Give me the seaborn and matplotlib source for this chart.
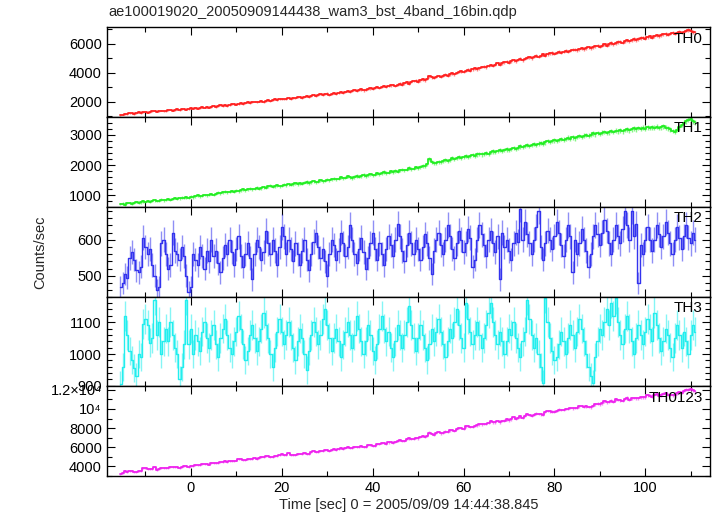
"""
Suzaku WAM burst light curve (4 energy bands, 16-bin = 0.5 s) redrawn
from the QDP plot: TH0..TH3 and the summed TH0123 channel, stacked panels.

Writes out.png in the working folder.
"""
import matplotlib
matplotlib.use("Agg")
import matplotlib.pyplot as plt
from matplotlib.ticker import FuncFormatter, MultipleLocator
import numpy as np
import seaborn as sns


TITLE = "ae100019020_20050909144438_wam3_bst_4band_16bin.qdp"
XLABEL = "Time [sec] 0 = 2005/09/09 14:44:38.845"
YLABEL = "Counts/sec"

T_START = -15.5   # first bin centre [s]
T_BIN = 0.5       # 16 x 1/32 s

TH0 = [
    1080, 1130, 1170, 1140, 1200, 1230, 1170, 1210, 1270, 1240,
    1290, 1320, 1260, 1300, 1350, 1390, 1320, 1340, 1400, 1350,
    1370, 1420, 1460, 1390, 1410, 1480, 1430, 1490, 1530, 1470,
    1500, 1570, 1530, 1590, 1530, 1580, 1650, 1600, 1660, 1600,
    1640, 1710, 1660, 1720, 1780, 1710, 1770, 1730, 1800, 1840,
    1860, 1810, 1870, 1930, 1860, 1920, 1970, 1910, 1980, 2020,
    1960, 2020, 2080, 2010, 2070, 2120, 2060, 2130, 2170, 2100,
    2170, 2220, 2160, 2220, 2290, 2210, 2270, 2230, 2300, 2340,
    2280, 2340, 2400, 2330, 2400, 2450, 2390, 2460, 2510, 2440,
    2510, 2570, 2500, 2560, 2630, 2560, 2620, 2670, 2600, 2680,
    2720, 2670, 2730, 2790, 2720, 2790, 2850, 2780, 2840, 2900,
    2920, 2870, 2940, 3010, 2930, 3000, 3070, 3000, 3070, 3130,
    3160, 3100, 3180, 3250, 3170, 3260, 3330, 3250, 3340, 3410,
    3450, 3390, 3470, 3540, 3470, 3570, 3740, 3680, 3620, 3710,
    3760, 3700, 3790, 3870, 3780, 3880, 3960, 3880, 3980, 4060,
    4100, 4040, 4130, 4210, 4120, 4220, 4300, 4220, 4310, 4390,
    4420, 4360, 4450, 4530, 4450, 4550, 4630, 4540, 4640, 4710,
    4740, 4680, 4770, 4860, 4770, 4870, 4950, 4860, 4960, 5030,
    5050, 4990, 5080, 5160, 5080, 5170, 5250, 5170, 5260, 5330,
    5350, 5290, 5370, 5440, 5360, 5440, 5510, 5430, 5510, 5570,
    5590, 5530, 5610, 5680, 5600, 5690, 5750, 5670, 5750, 5820,
    5840, 5780, 5860, 5940, 5860, 5950, 6030, 5950, 6040, 6100,
    6120, 6060, 6140, 6220, 6140, 6230, 6310, 6230, 6310, 6370,
    6400, 6340, 6420, 6490, 6410, 6500, 6570, 6490, 6580, 6640,
    6660, 6600, 6680, 6750, 6670, 6750, 6820, 6740, 6820, 6880,
    6920, 6850, 6800, 6770,
]

TH1 = [
    700, 720, 690, 730, 750, 720, 740, 770, 750, 760,
    790, 770, 800, 780, 810, 830, 800, 820, 850, 830,
    840, 870, 850, 880, 900, 870, 890, 920, 900, 930,
    920, 950, 930, 960, 990, 960, 980, 1010, 990, 1020,
    1040, 1010, 1050, 1080, 1060, 1090, 1120, 1090, 1110, 1140,
    1120, 1150, 1130, 1170, 1200, 1160, 1190, 1220, 1190, 1210,
    1240, 1210, 1230, 1270, 1250, 1290, 1310, 1280, 1300, 1330,
    1300, 1320, 1350, 1330, 1360, 1340, 1370, 1400, 1370, 1390,
    1380, 1410, 1440, 1400, 1430, 1460, 1430, 1450, 1490, 1460,
    1480, 1510, 1490, 1520, 1550, 1520, 1550, 1590, 1560, 1580,
    1620, 1590, 1570, 1600, 1630, 1610, 1640, 1670, 1640, 1660,
    1690, 1660, 1680, 1720, 1700, 1730, 1760, 1730, 1750, 1790,
    1770, 1800, 1780, 1820, 1850, 1820, 1850, 1890, 1860, 1880,
    1920, 1900, 1940, 1980, 1960, 2020, 2200, 2100, 2060, 2080,
    2110, 2090, 2130, 2170, 2140, 2180, 2220, 2190, 2230, 2260,
    2240, 2270, 2300, 2270, 2310, 2340, 2310, 2350, 2380, 2350,
    2370, 2400, 2380, 2420, 2450, 2420, 2460, 2490, 2460, 2500,
    2520, 2490, 2530, 2570, 2540, 2580, 2620, 2590, 2630, 2660,
    2630, 2670, 2700, 2670, 2710, 2740, 2710, 2750, 2790, 2760,
    2790, 2820, 2790, 2830, 2870, 2840, 2870, 2910, 2880, 2920,
    2890, 2930, 2960, 2930, 2970, 3000, 2970, 3010, 3050, 3020,
    3060, 3030, 3070, 3100, 3060, 3090, 3130, 3100, 3140, 3120,
    3150, 3120, 3160, 3190, 3150, 3180, 3220, 3190, 3230, 3210,
    3240, 3210, 3250, 3230, 3260, 3240, 3270, 3230, 3260, 3280,
    3240, 3220, 3180, 3130, 3110, 3160, 3250, 3330, 3400, 3450,
    3500, 3540, 3460, 3420,
]

TH2 = [
    470, 480, 505, 495, 550, 565, 545, 515, 510, 525,
    605, 580, 560, 575, 530, 500, 460, 470, 590, 600,
    560, 520, 530, 620, 570, 560, 545, 580, 555, 500,
    455, 470, 560, 545, 530, 580, 555, 520, 570, 540,
    600, 555, 570, 535, 510, 550, 585, 560, 600, 565,
    530, 575, 610, 555, 525, 560, 590, 550, 490, 560,
    600, 580, 545, 565, 625, 590, 560, 600, 570, 530,
    580, 635, 610, 560, 600, 575, 540, 590, 560, 530,
    570, 600, 545, 515, 560, 595, 620, 580, 550, 575,
    540, 500, 560, 600, 585, 545, 570, 620, 590, 555,
    580, 640, 600, 560, 535, 575, 605, 565, 520, 550,
    590, 620, 575, 545, 590, 560, 530, 575, 610, 585,
    555, 600, 645, 610, 570, 540, 585, 620, 590, 560,
    600, 575, 545, 580, 615, 590, 550, 505, 570, 600,
    620, 585, 560, 600, 640, 610, 575, 550, 590, 625,
    600, 565, 590, 630, 605, 525, 545, 600, 640, 615,
    585, 555, 600, 625, 590, 565, 610, 490, 620, 580,
    600, 570, 545, 590, 620, 595, 685, 600, 650, 615,
    590, 560, 600, 635, 680, 580, 545, 590, 625, 600,
    575, 610, 650, 620, 585, 555, 600, 640, 610, 510,
    600, 560, 590, 630, 600, 570, 525, 560, 610, 640,
    615, 585, 620, 655, 625, 590, 560, 600, 640, 610,
    590, 630, 680, 640, 600, 680, 610, 645, 480, 585,
    560, 600, 635, 600, 570, 600, 640, 615, 580, 610,
    650, 620, 590, 560, 600, 635, 605, 575, 610, 640,
    605, 590, 620, 600,
]

TH3 = [
    905, 960, 1120, 1060, 1010, 980, 955, 930, 1000, 990,
    1095, 1110, 1090, 1035, 1050, 1170, 1060, 1100, 1000, 1040,
    1080, 1040, 1100, 1060, 1020, 1000, 920, 960, 1030, 1170,
    1030, 1080, 1000, 1060, 1040, 1010, 1070, 1100, 1050, 1020,
    1060, 1090, 1030, 990, 1050, 1080, 1110, 1060, 1020, 1000,
    1040, 1070, 1120, 1080, 1030, 980, 1010, 1060, 1090, 1050,
    1010, 1040, 1080, 1130, 1090, 1050, 1000, 960, 1020, 1070,
    1110, 1070, 1030, 1060, 1100, 1060, 1020, 980, 1040, 1080,
    1050, 1000, 950, 1010, 1060, 1100, 1070, 1030, 1060, 1110,
    1140, 1090, 1050, 1010, 1050, 1080, 1040, 990, 1030, 1070,
    1100, 1060, 1020, 1060, 1120, 1080, 1040, 1000, 1040, 1090,
    1060, 1010, 980, 1030, 1080, 1120, 1080, 1040, 1070, 1020,
    990, 1040, 1090, 1060, 1020, 1060, 1100, 1150, 1090, 1050,
    1010, 1050, 1090, 1060, 1020, 980, 1030, 1080, 1040, 1070,
    1110, 1070, 1030, 990, 1040, 1080, 1050, 1100, 1140, 1090,
    1050, 1020, 1160, 1110, 1070, 1030, 1060, 1100, 1060, 1020,
    1050, 1090, 1130, 1160, 1100, 1060, 1030, 1070, 1040, 1000,
    1040, 1080, 1060, 1100, 1050, 1020, 990, 1040, 1070, 1170,
    1110, 1060, 1020, 1050, 1000, 960, 908, 1177, 1100, 1050,
    1010, 980, 990, 1030, 1070, 1040, 1000, 1050, 1090, 1060,
    1020, 1070, 1110, 1080, 1040, 1000, 960, 930, 908, 990,
    1040, 1080, 1060, 1100, 1140, 1090, 1160, 1120, 1175, 1100,
    1060, 1030, 1080, 1120, 1080, 1040, 1000, 1050, 1090, 1060,
    1030, 1070, 1110, 1080, 1040, 1130, 1090, 1050, 1010, 1040,
    1080, 1060, 1020, 990, 1050, 1090, 1060, 1020, 1070, 1040,
    1000, 1060, 1090, 1070,
]

# name, colour, y-limits, major / minor tick step, line width
PANELS = [
    ("TH0", "#ff2020", (950, 7110), 2000, 1000, 1.3),
    ("TH1", "#22ee22", (610, 3590), 1000, 200, 1.3),
    ("TH2", "#3333ee", (442, 691), 100, 20, 1.0),
    ("TH3", "#22eeee", (898, 1180), 100, 20, 1.0),
    ("TH0123", "#ee22ee", (2960, 12350), 2000, 1000, 1.3),
]


def sum_label(v, _pos):
    if v == 10000:
        return "10\u2074"
    if v == 12000:
        return "1.2\u00d710\u2074"
    return f"{v:.0f}"


def main() -> None:
    sns.set_theme(style="ticks")
    plt.rcParams["font.family"] = ["Liberation Sans", "DejaVu Sans"]

    t = T_START + T_BIN * np.arange(len(TH0))
    th0, th1 = np.array(TH0, float), np.array(TH1, float)
    th2, th3 = np.array(TH2, float), np.array(TH3, float)
    series = [th0, th1, th2, th3, th0 + th1 + th2 + th3]

    fig, axes = plt.subplots(5, 1, sharex=True, figsize=(7.17, 5.16), dpi=100)
    fig.subplots_adjust(left=0.149, right=0.990, top=0.947, bottom=0.077, hspace=0)

    for ax, y, (name, color, ylim, major, minor, lw) in zip(axes, series, PANELS):
        err = np.sqrt(y * T_BIN) / T_BIN          # Poisson error per bin
        ax.errorbar(t, y, yerr=err, fmt="none", ecolor=color,
                    elinewidth=1.0, alpha=0.55)
        sns.lineplot(x=t, y=y, ax=ax, color=color, lw=lw,
                     drawstyle="steps-mid", estimator=None)
        ax.set_ylim(*ylim)
        ax.yaxis.set_major_locator(MultipleLocator(major))
        ax.yaxis.set_minor_locator(MultipleLocator(minor))
        ax.xaxis.set_major_locator(MultipleLocator(20))
        ax.xaxis.set_minor_locator(MultipleLocator(10))
        ax.tick_params(which="both", direction="in", top=True, right=True,
                       colors="black", labelsize=10.5, width=0.8)
        ax.tick_params(which="major", length=6)
        ax.tick_params(which="minor", length=3.5)
        ax.set_ylabel("")
        for s in ax.spines.values():
            s.set_color("black")
            s.set_linewidth(1.0)
        ax.text(0.988, 0.875, name, transform=ax.transAxes, ha="right",
                va="center", fontsize=11, color="black")

    axes[-1].yaxis.set_major_formatter(FuncFormatter(sum_label))
    axes[-1].set_xlim(-18.5, 114.2)
    axes[-1].set_xlabel(XLABEL, fontsize=10.5, labelpad=2)

    fig.text(0.151, 0.977, TITLE, ha="left", va="center", fontsize=10.5)
    fig.text(0.056, 0.512, YLABEL, rotation=90, ha="center", va="center",
             fontsize=10.5)

    fig.savefig("out.png", dpi=100)
    plt.close(fig)


if __name__ == "__main__":
    main()
